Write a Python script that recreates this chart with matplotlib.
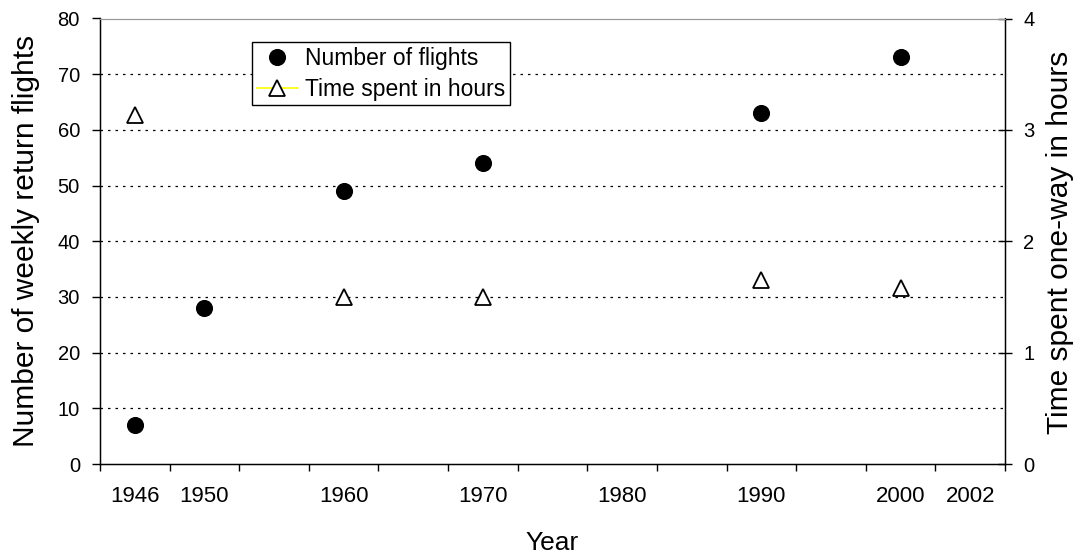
import matplotlib
matplotlib.use("Agg")
import matplotlib.pyplot as plt
from matplotlib.lines import Line2D
import numpy as np

plt.rcParams['font.family'] = ['Liberation Sans', 'DejaVu Sans']

# Categories on the x axis (13 slots, only some labelled)
categories = ['1946', '1950', '', '1960', '', '1970', '', '1980', '', '1990', '', '2000', '2002']
# Number of weekly return flights (None = no value)
flights = [7, 28, None, 49, None, 54, None, None, None, 63, None, 73, None]
# Time spent one-way in hours
hours = [3.13, None, None, 1.5, None, 1.5, None, None, None, 1.65, None, 1.58, None]

W, H = 1083, 556
fig = plt.figure(figsize=(W / 100, H / 100), dpi=100)
ax = fig.add_axes([100 / W, 1 - 464 / H, (1005 - 100) / W, (464 - 18.5) / H])
ax2 = ax.twinx()

x = np.arange(len(categories))
fx = [i for i, v in zip(x, flights) if v is not None]
fy = [v for v in flights if v is not None]
hx = [i for i, v in zip(x, hours) if v is not None]
hy = [v for v in hours if v is not None]

ax.plot(fx, fy, linestyle='none', marker='o', markersize=11.3, color='black', zorder=5)
ax2.plot(hx, hy, linestyle='none', marker='^', markersize=11.5, markerfacecolor='white',
         markeredgecolor='black', markeredgewidth=1.3, zorder=5)

ax.set_xlim(-0.5, len(categories) - 0.5)
ax.set_ylim(0, 80)
ax2.set_ylim(0, 4)

# x ticks: labels at category centres, tick marks at boundaries
ax.set_xticks(x)
ax.set_xticklabels(categories, fontsize=16)
ax.set_xticks(np.arange(-0.5, len(categories), 1), minor=True)
ax.tick_params(axis='x', which='major', length=0, pad=16)
ax.tick_params(axis='x', which='minor', length=5, width=1, direction='out', color='black')

ax.set_yticks(np.arange(0, 81, 10))
ax.tick_params(axis='y', which='major', length=6, width=1, direction='out', labelsize=14.5, pad=8.4)
ax2.set_yticks(np.arange(0, 5, 1))
ax2.tick_params(axis='y', which='major', length=10, width=1, direction='inout', labelsize=14.5, pad=8)

# dotted grid lines
for v in np.arange(10, 81, 10):
    ax.axhline(v, color='black', linestyle=(0, (2, 4)), linewidth=0.9, zorder=1)

for s in ['left', 'bottom']:
    ax.spines[s].set_color('black')
    ax.spines[s].set_linewidth(1)
ax2.spines['right'].set_color('black')
ax2.spines['right'].set_linewidth(1)
ax2.spines['top'].set_color('#999999')
ax.spines['top'].set_color('#999999')

ax.set_xlabel('Year', fontsize=19)
ax.xaxis.label.set_verticalalignment('baseline')
ax.xaxis.set_label_coords(0.5, (464 - 550) / 445.5)

ax.set_ylabel('Number of weekly return flights', fontsize=21.5)
ax.yaxis.set_label_coords((40 - 100) / 905, 0.5)
ax2.set_ylabel('Time spent one-way in hours', fontsize=21.5)
ax2.yaxis.set_label_coords((1046 - 100) / 905, 0.497)

handles = [
    Line2D([], [], linestyle='none', marker='o', markersize=11.3, color='black'),
    Line2D([], [], color='#ffff00', linewidth=1.2, marker='^', markersize=11.5,
           markerfacecolor='white', markeredgecolor='black', markeredgewidth=1.3),
]
leg = fig.legend(handles, ['Number of flights', 'Time spent in hours'],
                 loc='upper left', bbox_to_anchor=(252 / W, 1 - 42 / H),
                 fontsize=16.5, frameon=True, fancybox=False, framealpha=1,
                 edgecolor='black', borderpad=0.2, handlelength=1.8, handletextpad=0.3,
                 labelspacing=0.35, borderaxespad=0)
leg.get_frame().set_linewidth(1)

fig.savefig('out.png', dpi=100)
